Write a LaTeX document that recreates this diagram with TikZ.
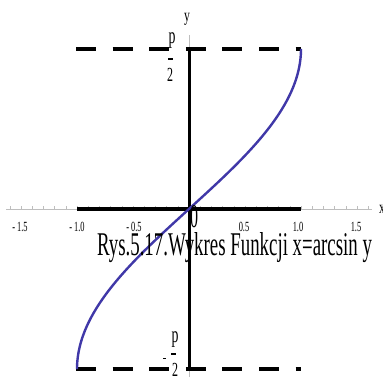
\documentclass[tikz,border=0pt]{standalone}
\usepackage{fontspec}
\usepackage{graphicx}
\setmainfont{Liberation Serif}
\definecolor{curveblue}{RGB}{64,56,168}
\definecolor{axisgray}{RGB}{190,190,190}
\newcommand{\cond}[3]{\scalebox{#1}[1]{\fontsize{#2}{#2}\selectfont #3}}
\begin{document}
\begin{tikzpicture}[x=1pt,y=-1pt,
  thinaxis/.style={draw=axisgray, line width=0.6pt},
  minortick/.style={draw=axisgray, line width=0.5pt},
  thickline/.style={draw=black, line width=3.5pt},
  dashline/.style={draw=black, line width=4pt, dash pattern=on 20pt off 16.6pt},
  curvestyle/.style={draw=curveblue, line width=2.4pt},
  lab/.style={inner sep=0pt, outer sep=0pt},
  barline/.style={draw=black, line width=2.2pt}]
\useasboundingbox (0,0) rectangle (383,377);
% named coordinates
\coordinate (xl) at (6,209);
\coordinate (xr) at (372,209);
\coordinate (yt) at (189,35);
\coordinate (yb) at (189,377);
\coordinate (xm1) at (77,209);
\coordinate (xp1) at (301,209);
\coordinate (ytop) at (189,49);
\coordinate (ybot) at (189,369);
\coordinate (dtl) at (76,49);
\coordinate (dtr) at (301,49);
\coordinate (dbl) at (76,369);
\coordinate (dbr) at (301,369);
% thin axes
\draw[thinaxis] (xl) -- (xr);
\draw[thinaxis] (yt) -- (yb);
\foreach \k in {-16,...,16}{
  \draw[minortick] ({189+11.2*\k},209) -- ++(0,-3);
}
% dashed lines
\draw[dashline] (dtl) -- (dtr);
\draw[dashline] (dbl) -- (dbr);
% thick axes
\draw[thickline] (xm1) -- (xp1);
\draw[thickline, line width=3pt] (ytop) -- (ybot);
% curve x = sin y
\draw[curvestyle] plot[domain=-1.5708:1.5708, samples=120, smooth] ({189+112*sin(\x r)}, {209-102*\x});
% tick labels
\node[lab] (tm15) at (20,227) {\cond{0.6}{14}{- 1.5}};
\node[lab] (tm10) at (77,227) {\cond{0.6}{14}{- 1.0}};
\node[lab] (tm05) at (134,227) {\cond{0.6}{14}{- 0.5}};
\node[lab] (tp05) at (244,227) {\cond{0.6}{14}{0.5}};
\node[lab] (tp10) at (298,227) {\cond{0.6}{14}{1.0}};
\node[lab] (tp15) at (356,227) {\cond{0.6}{14}{1.5}};
\node[lab, anchor=north west] (zero) at (190,205) {\resizebox{8pt}{22pt}{0}};
% axis letters
\node[lab] (ylab) at (187,19) {\cond{0.65}{18}{y}};
\node[lab] (xlab) at (382,209) {\cond{0.65}{18}{x}};
% pi/2 labels
\node[lab] (ptop) at (172,41) {\cond{0.6}{23}{p}};
\draw[barline] (168,59) -- (173,59);
\node[lab] (twotop) at (170,75) {\cond{0.6}{20}{2}};
\node[lab] (pbot) at (175,340) {\cond{0.6}{23}{p}};
\draw[barline] (171,354) -- (176,354);
\draw[black, line width=1pt] (163,358) -- (166,358);
\node[lab] (twobot) at (175,370) {\cond{0.6}{20}{2}};
% caption
\node[lab, anchor=base west] (caption) at (97,255) {\resizebox{275pt}{23pt}{Rys.5.17.Wykres Funkcji x=arcsin y}};
\end{tikzpicture}
\end{document}
